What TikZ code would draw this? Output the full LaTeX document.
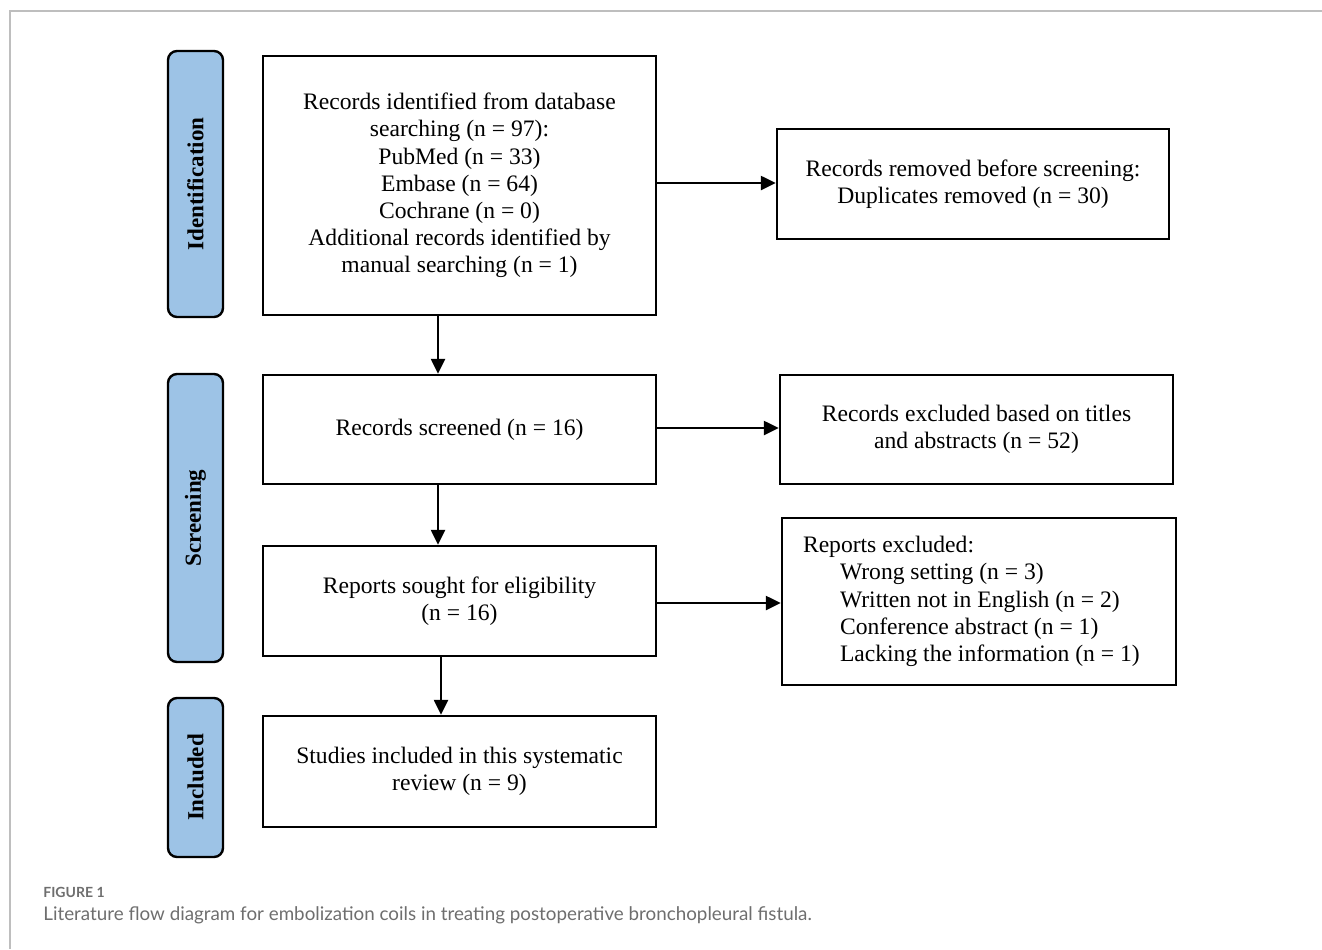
\documentclass[tikz,border=0pt]{standalone}
\usepackage{fontspec}
\setmainfont{Liberation Serif}
\newfontfamily\capfont{Lato}
\usetikzlibrary{arrows.meta}
\definecolor{stageblue}{RGB}{157,195,230}
\definecolor{capgrey}{RGB}{110,110,110}
\definecolor{framegrey}{RGB}{190,190,190}
\tikzset{
  stage/.style={draw, line width=1.2pt, fill=stageblue, rounded corners=4.5pt,
    minimum height=27.5pt, rotate=90, font=\fontsize{11.5}{14}\selectfont\bfseries, inner sep=0pt},
  flowbox/.style={draw, line width=1.2pt, align=center, inner sep=2pt,
    font=\fontsize{11.8}{13.6}\selectfont},
  arr/.style={line width=1.2pt, -{Triangle[length=7.5pt,width=7pt]}}
}
\begin{document}
\begin{tikzpicture}[x=0.5pt,y=-0.5pt]
  \useasboundingbox (0,0) rectangle (1322,949);
  \draw[framegrey, line width=1pt] (1322,11) -- (10,11) -- (10,949);

  % stages
  \node[stage, minimum width=133pt] (ident) at (195.5,184) {Identification};
  \node[stage, minimum width=144pt] (screen) at (195.5,518) {Screening};
  \node[stage, minimum width=79.5pt] (incl) at (195.5,777.5) {Included};

  % boxes
  \node[flowbox, minimum width=196.5pt, minimum height=129.5pt] (rec) at (459.5,185.5)
    {Records identified from database\\searching (n = 97):\\PubMed (n = 33)\\Embase (n = 64)\\Cochrane (n = 0)\\Additional records identified by\\manual searching (n = 1)};
  \node[flowbox, minimum width=196pt, minimum height=55pt] (dup) at (973,184)
    {Records removed before screening:\\Duplicates removed (n = 30)};
  \node[flowbox, minimum width=196.5pt, minimum height=54.5pt] (scr) at (459.5,429.5)
    {Records screened (n = 16)};
  \node[flowbox, minimum width=196.5pt, minimum height=54.5pt] (exc) at (976.5,429.5)
    {Records excluded based on titles\\and abstracts (n = 52)};
  \node[flowbox, minimum width=196.5pt, minimum height=55pt] (sought) at (459.5,601)
    {Reports sought for eligibility\\(n = 16)};
  \node[flowbox, align=flush left, text width=176pt, inner xsep=10.5pt, minimum height=83.5pt] (rep) at (979,601.5)
    {Reports excluded:\\
     \hspace*{18.5pt}Wrong setting (n = 3)\\
     \hspace*{18.5pt}Written not in English (n = 2)\\
     \hspace*{18.5pt}Conference abstract (n = 1)\\
     \hspace*{18.5pt}Lacking the information (n = 1)};
  \node[flowbox, minimum width=196.5pt, minimum height=55.5pt] (stud) at (459.5,771.5)
    {Studies included in this systematic\\review (n = 9)};

  % arrows
  \draw[arr] ([xshift=-10.75pt]rec.south) -- ([xshift=-10.75pt]scr.north);
  \draw[arr] ([xshift=-10.75pt]scr.south) -- ([xshift=-10.75pt]sought.north);
  \draw[arr] ([xshift=-9.25pt]sought.south) -- ([xshift=-9.25pt]stud.north);
  \draw[arr] ([yshift=1.25pt]rec.east) -- ([yshift=1.25pt]rec.east -| dup.west);
  \draw[arr] ([yshift=0.75pt]scr.east) -- ([yshift=0.75pt]scr.east -| exc.west);
  \draw[arr] ([yshift=-1pt]sought.east) -- ([yshift=-1pt]sought.east -| rep.west);

  % caption
  \node[anchor=base west, inner sep=0pt, text=capgrey, font=\capfont\fontsize{7}{8}\selectfont\bfseries] (fig) at (43,897) {FIGURE 1};
  \node[anchor=base west, inner sep=0pt, text=capgrey, font=\capfont\fontsize{9.4}{11}\selectfont] (cap) at (43,920)
    {Literature flow diagram for embolization coils in treating postoperative bronchopleural fistula.};
\end{tikzpicture}
\end{document}
